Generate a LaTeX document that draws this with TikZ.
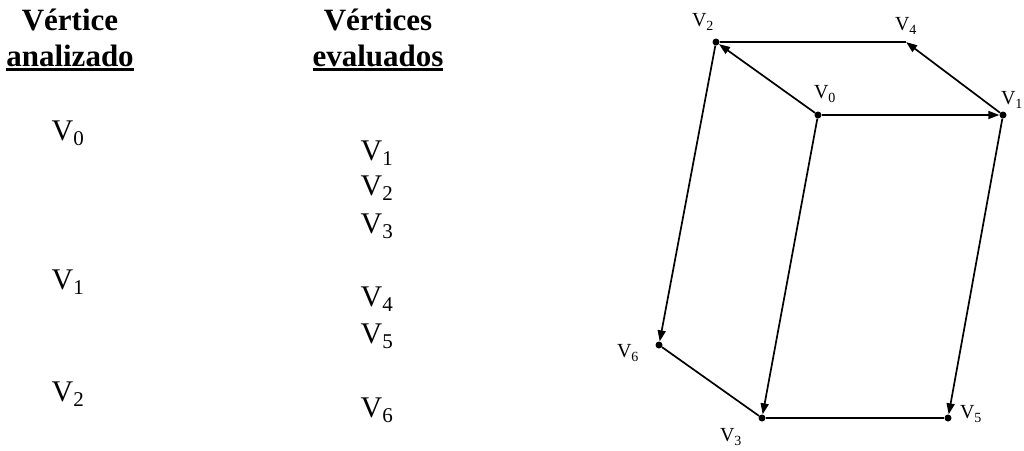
\documentclass[tikz,border=0pt]{standalone}
\usepackage{fontspec}
\setmainfont{Liberation Serif}
\usetikzlibrary{arrows.meta,positioning}
\newcommand{\hdline}[1]{\vtop{\hbox{#1}\kern1.5pt\hrule height 2.6pt}}
\tikzset{
  headtext/.style={font=\fontsize{31}{36}\selectfont\bfseries,
    align=center, inner sep=0pt},
  listtext/.style={font=\fontsize{30}{32}\selectfont, inner sep=0pt},
  vertex/.style={circle, fill=black, inner sep=0pt, minimum size=7pt},
  vlabel/.style={font=\fontsize{20}{22}\selectfont, inner sep=0pt},
  edgearrow/.style={-{Triangle[length=11pt,width=8pt]}, line width=1.7pt},
  edgeplain/.style={line width=1.7pt},
}

\begin{document}
\begin{tikzpicture}[x=1pt, y=-1pt]
    \useasboundingbox (0,0) rectangle (1024,450);
    % table
    \node[headtext] (hanal) at (70,40) {Vértice\\\hdline{analizado}};
    \node[headtext] (heval) at (378,40) {Vértices\\\hdline{evaluados}};
    \node[listtext] (a0) at (68,133) {V\textsubscript{0}};
    \node[listtext] (a1) at (68,282) {V\textsubscript{1}};
    \node[listtext] (a2) at (68,394) {V\textsubscript{2}};
    \node[listtext] (e1) at (377,153) {V\textsubscript{1}};
    \node[listtext] (e2) at (377,188) {V\textsubscript{2}};
    \node[listtext] (e3) at (377,226) {V\textsubscript{3}};
    \node[listtext] (e4) at (377,299) {V\textsubscript{4}};
    \node[listtext] (e5) at (377,336) {V\textsubscript{5}};
    \node[listtext] (e6) at (377,410) {V\textsubscript{6}};
    % graph
    \node[vertex] (v0) at (818,115) {};
    \node[vertex] (v1) at (1003,115) {};
    \node[vertex] (v2) at (716,42) {};
    \node[vertex] (v3) at (762,418) {};
    \node[vertex, minimum size=0pt] (v4) at (906,42) {};
    \node[vertex] (v5) at (948,418) {};
    \node[vertex] (v6) at (659,345) {};
    \node[vlabel] (l0) at (825,94) {V\textsubscript{0}};
    \node[vlabel] (l1) at (1012,100) {V\textsubscript{1}};
    \node[vlabel] (l2) at (703,22) {V\textsubscript{2}};
    \node[vlabel] (l3) at (731,437) {V\textsubscript{3}};
    \node[vlabel] (l4) at (906,26) {V\textsubscript{4}};
    \node[vlabel] (l5) at (971,414) {V\textsubscript{5}};
    \node[vlabel] (l6) at (628,353) {V\textsubscript{6}};
    \draw[edgearrow] (v0) -- (v1);
    \draw[edgearrow] (v0) -- (v2);
    \draw[edgearrow] (v0) -- (v3);
    \draw[edgearrow] (v1) -- (v4);
    \draw[edgearrow] (v1) -- (v5);
    \draw[edgearrow] (v2) -- (v6);
    \draw[edgeplain] (v2) -- (v4);
    \draw[edgeplain] (v6) -- (v3);
    \draw[edgeplain] (v3) -- (v5);
\end{tikzpicture}
\end{document}
